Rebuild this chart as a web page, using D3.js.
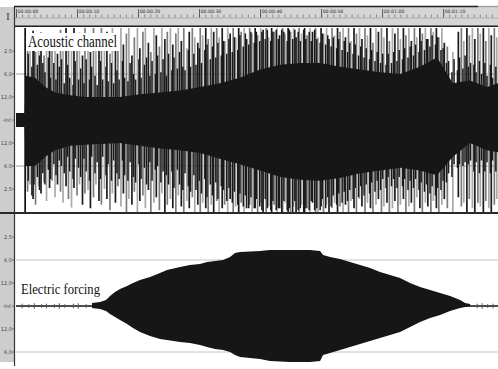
<!DOCTYPE html>
<html>
<head>
<meta charset="utf-8">
<script src="https://cdn.jsdelivr.net/npm/d3@7"></script>
<style>
  body { margin: 0; background: #fff; }
  svg { display: block; }
</style>
</head>
<body>
<svg id="chart" width="498" height="369"></svg>
<script>
// ---- time ruler (seconds) ----
const rulerTimes = [0, 10, 20, 30, 40, 50, 60, 70];
const rulerLabels = ["00:00:00", "00:00:10", "00:00:20", "00:00:30", "00:00:40", "00:00:50", "00:01:00", "00:01:10"];

// ---- level scale: linear amplitude with dB labels ----
const levelValues = [0.75, 0.5, 0.25, 0, -0.25, -0.5, -0.75];
const levelLabels = ["2,5", "6,0", "12,0", "-Inf.", "12,0", "6,0", "2,5"];
const gridLevels = [0.5, -0.5];

// ---- acoustic channel: dense body envelope (time s, upper / lower amplitude) ----
const coreT    = [0, 1.4, 1.6, 3.1, 4.8, 6.4, 8.9, 11.3, 13.8, 17.0, 20.3, 23.6, 26.9, 30.2, 33.4, 36.7, 40.0, 43.3, 46.6, 49.8, 53.1, 56.4, 59.7, 63.0, 66.2, 69.0, 71.6, 74.4, 77.2, 79.0];
const coreUp   = [0.075, 0.075, 0.48, 0.46, 0.36, 0.30, 0.27, 0.25, 0.25, 0.25, 0.28, 0.30, 0.32, 0.36, 0.40, 0.46, 0.55, 0.60, 0.62, 0.62, 0.58, 0.55, 0.52, 0.50, 0.58, 0.68, 0.40, 0.43, 0.36, 0.40];
const coreDown = [0.075, 0.075, 0.50, 0.50, 0.40, 0.33, 0.28, 0.27, 0.26, 0.25, 0.28, 0.31, 0.33, 0.36, 0.42, 0.48, 0.55, 0.62, 0.65, 0.66, 0.63, 0.58, 0.55, 0.52, 0.55, 0.60, 0.40, 0.25, 0.33, 0.35];

// ---- acoustic channel: tallest peaks [time s, upper tip, lower tip] ----
const acousticPeaks = [
  [1.5,1.0,1.0],
  [1.9,0.92,0.78],[2.3,0.80,0.70],[2.8,0.97,0.86],[3.2,0.74,0.92],[3.7,0.88,0.72],[4.1,0.95,0.80],[4.6,0.70,0.68],[5.0,0.86,0.88],[5.5,0.78,0.74],[5.9,0.93,0.66],[6.4,0.82,0.84],[6.8,0.72,0.70],
  [7.3,0.98,0.78],[7.7,0.84,0.90],[8.2,1.0,0.72],[8.6,0.76,0.86],[9.1,0.92,0.95],[9.5,1.0,0.74],[10.0,0.80,0.82],[10.4,0.95,0.70],[10.9,0.70,0.92],[11.3,1.0,0.80],[11.8,0.86,0.76],[12.2,0.74,0.96],[12.7,1.0,0.84],[13.1,0.90,0.70],[13.6,0.78,0.88],[14.0,1.0,0.92],[14.5,0.84,0.75],[14.9,0.96,0.86],[15.4,0.72,0.98],[15.8,1.0,0.80],[16.3,0.88,0.90],[16.7,0.76,0.72],
  [17.2,1.0,0.94],[17.6,0.82,0.80],[18.1,0.94,1.0],[18.5,1.0,0.86],[19.0,0.70,0.92],[19.4,0.90,0.78],[19.9,1.0,1.0],[20.3,0.78,0.88],[20.8,0.96,0.82],[21.2,1.0,0.96],[21.7,0.84,0.76],[22.1,0.74,1.0],[22.6,1.0,0.90],[23.0,0.92,0.84],[23.5,0.80,0.98],[23.9,1.0,0.80],[24.4,0.88,1.0],[24.8,0.96,0.92],[25.3,1.0,0.86],[25.7,0.82,0.96],[26.2,0.94,1.0],[26.6,1.0,0.82],[27.1,0.86,0.94],[27.5,1.0,1.0],[28.0,0.78,0.88],[28.4,0.96,0.96],[28.9,1.0,0.84],[29.3,0.90,1.0],[29.8,0.84,0.92],
  [30.2,1.0,1.0],[30.6,0.92,0.90],[31.1,1.0,0.96],[31.5,0.88,1.0],[32.0,1.0,0.92],[32.4,0.96,1.0],[32.9,1.0,0.88],[33.3,0.90,1.0],[33.8,1.0,0.96],[34.2,0.86,0.92],[34.7,1.0,1.0],[35.1,0.94,0.86],[35.6,1.0,1.0],[36.0,0.90,0.94],[36.5,1.0,1.0],[36.9,0.96,0.90],[37.4,1.0,1.0],[37.8,0.88,0.96],[38.3,1.0,0.92],[38.7,0.94,1.0],[39.2,1.0,0.96],[39.6,0.92,1.0],[40.1,1.0,0.90],[40.5,0.98,1.0],[41.0,1.0,1.0],[41.4,0.90,0.94],[41.9,1.0,1.0],[42.3,0.96,0.92],[42.8,1.0,1.0],[43.2,0.92,0.96],[43.7,1.0,1.0],[44.1,0.94,0.90],[44.6,1.0,1.0],[45.0,0.96,1.0],[45.5,1.0,0.94],[45.9,0.90,1.0],[46.4,1.0,1.0],[46.8,0.94,0.92],[47.3,1.0,1.0],[47.7,0.92,0.96],[48.2,1.0,1.0],[48.6,0.96,0.90],[49.1,1.0,1.0],[49.5,0.90,1.0],[50.0,1.0,0.94],[50.4,0.94,1.0],[50.9,1.0,0.92],[51.3,0.88,1.0],[51.8,1.0,0.96],[52.2,0.92,0.90],[52.7,1.0,1.0],[53.1,0.96,0.94],[53.6,1.0,1.0],
  [54.0,0.90,0.92],[54.5,1.0,1.0],[54.9,0.86,0.88],[55.4,1.0,0.96],[55.8,0.94,1.0],[56.3,1.0,0.86],[56.7,0.88,0.94],[57.2,1.0,1.0],[57.6,0.92,0.90],[58.1,1.0,0.96],[58.5,0.84,1.0],[59.0,1.0,0.92],[59.4,0.96,0.86],[59.9,1.0,1.0],[60.3,0.90,0.94],[60.8,1.0,0.90],[61.2,0.86,1.0],[61.7,1.0,0.96],[62.1,0.94,0.88],[62.6,1.0,1.0],[63.0,0.88,0.92],[63.5,1.0,0.86],[63.9,0.92,1.0],[64.4,1.0,0.94],[64.8,0.86,0.90],[65.3,1.0,1.0],[65.7,0.90,0.84],[66.2,1.0,0.96],[66.6,0.94,1.0],[67.1,1.0,0.90],[67.5,0.88,0.94],[68.0,1.0,1.0],[68.4,0.96,0.88],[68.9,1.0,0.96],[69.3,0.90,1.0],[69.8,1.0,0.92],[70.2,0.84,0.86],
  [70.7,0.80,0.96],[71.6,0.74,1.0],[72.5,0.96,0.84],
  [73.0,1.0,0.94],[73.4,0.86,0.90],[73.9,1.0,1.0],[74.3,0.92,0.86],[74.8,1.0,0.96],[75.2,0.88,1.0],[75.7,1.0,0.90],[76.1,0.94,0.94],[76.6,1.0,1.0],[77.0,0.86,0.88],[77.5,1.0,0.96],[77.9,0.92,1.0],[78.4,1.0,0.92],[78.8,0.90,0.86]
];

// ---- acoustic channel: mid-height bursts just outside the body [time s, upper, lower] ----
const acousticBursts = [
  [2.0,0.72,0.66],[2.6,0.58,0.82],[2.95,0.80,0.70],[3.5,0.60,0.62],[3.85,0.70,0.76],[4.4,0.62,0.58],[4.75,0.52,0.70],[5.3,0.68,0.54],[5.65,0.46,0.64],[6.2,0.62,0.48],[6.55,0.44,0.60],[7.1,0.58,0.44],
  [7.45,0.66,0.50],[7.9,0.40,0.58],[8.45,0.60,0.40],[8.8,0.46,0.56],[9.35,0.38,0.64],[9.7,0.64,0.42],[10.25,0.44,0.52],[10.6,0.56,0.62],[11.15,0.40,0.42],[11.5,0.66,0.56],[12.05,0.44,0.66],[12.4,0.58,0.40],[12.95,0.48,0.58],[13.3,0.38,0.46],[13.85,0.64,0.64],[14.2,0.44,0.40],[14.75,0.58,0.60],[15.1,0.42,0.48],[15.65,0.62,0.66],[16.0,0.40,0.44],[16.55,0.54,0.58],[16.9,0.44,0.64],
  [17.45,0.64,0.44],[17.8,0.46,0.60],[18.35,0.42,0.66],[18.7,0.62,0.46],[19.25,0.50,0.62],[19.6,0.44,0.68],[20.15,0.66,0.48],[20.5,0.46,0.64],[21.05,0.60,0.52],[21.4,0.68,0.70],[21.95,0.48,0.46],[22.3,0.64,0.66],[22.85,0.50,0.54],[23.2,0.70,0.50],[23.75,0.52,0.68],[24.1,0.66,0.56],[24.65,0.48,0.60],[25.0,0.72,0.70],[25.55,0.54,0.56],[25.9,0.68,0.74],[26.45,0.56,0.54],[26.8,0.74,0.70],[27.35,0.58,0.76],[27.7,0.54,0.58],[28.25,0.76,0.72],[28.6,0.58,0.78],[29.15,0.72,0.60],[29.5,0.60,0.76],
  [30.05,0.78,0.66],[30.4,0.62,0.80],[30.95,0.76,0.64],[31.3,0.82,0.84],[31.85,0.66,0.70],[32.2,0.80,0.82],[32.75,0.68,0.68],[33.1,0.84,0.86],[33.65,0.70,0.72],[34.0,0.86,0.76],[34.55,0.72,0.88],[34.9,0.88,0.74],[35.45,0.74,0.90],[35.8,0.90,0.78],[36.35,0.76,0.92],[36.7,0.92,0.80],[37.25,0.80,0.94],[37.6,0.94,0.82],[38.15,0.82,0.96],[38.5,0.96,0.84],[39.05,0.84,0.96],[39.4,0.96,0.86],[39.95,0.86,0.94],
  [40.3,0.96,0.98],[40.85,0.88,0.86],[41.2,0.98,0.96],[41.75,0.86,0.98],[42.1,0.96,0.88],[42.65,0.98,0.98],[43.0,0.88,0.96],[43.55,0.98,1.0],[43.9,0.96,0.88],[44.45,0.86,0.98],[44.8,0.98,0.96],[45.35,0.88,1.0],[45.7,0.98,0.88],[46.25,0.96,0.98],[46.6,0.86,0.96],[47.15,0.98,1.0],[47.5,0.88,0.96],[48.05,0.96,0.98],[48.4,0.86,0.88],[48.95,0.98,0.98],[49.3,0.88,0.96],[49.85,0.84,0.98],
  [50.2,0.94,0.86],[50.75,0.82,0.96],[51.1,0.92,0.84],[51.65,0.80,0.94],[52.0,0.90,0.82],[52.55,0.78,0.92],[52.9,0.88,0.80],[53.45,0.76,0.90],[53.8,0.86,0.78],[54.35,0.74,0.88],[54.7,0.84,0.76],[55.25,0.72,0.86],[55.6,0.82,0.74],[56.15,0.70,0.84],[56.5,0.80,0.72],[57.05,0.68,0.82],[57.4,0.78,0.70],[57.95,0.66,0.80],[58.3,0.76,0.68],[58.85,0.64,0.78],[59.2,0.74,0.66],[59.75,0.62,0.76],
  [60.1,0.72,0.64],[60.65,0.60,0.74],[61.0,0.72,0.62],[61.55,0.62,0.72],[61.9,0.74,0.64],[62.45,0.64,0.74],[62.8,0.76,0.62],[63.35,0.66,0.72],[63.7,0.78,0.64],[64.25,0.68,0.76],[64.6,0.80,0.66],[65.15,0.70,0.74],[65.5,0.82,0.64],[66.05,0.74,0.76],[66.4,0.86,0.68],[66.95,0.76,0.78],[67.3,0.88,0.70],[67.85,0.80,0.80],[68.2,0.92,0.72],[68.75,0.82,0.82],[69.1,0.90,0.74],[69.65,0.76,0.76],
  [70.0,0.78,0.66],[70.55,0.62,0.68],[70.9,0.64,0.58],[71.45,0.52,0.62],[71.8,0.66,0.48],[72.35,0.54,0.52],[72.7,0.68,0.48],[73.25,0.56,0.50],[73.6,0.70,0.46],[74.15,0.58,0.48],[74.5,0.62,0.44],[75.05,0.60,0.56],[75.4,0.52,0.46],[75.95,0.64,0.58],[76.3,0.50,0.44],[76.85,0.62,0.56],[77.2,0.48,0.46],[77.75,0.60,0.58],[78.1,0.46,0.44],[78.65,0.58,0.56]
];

// ---- electric forcing envelope (time s, upper / lower amplitude) ----
const forcingT    = [12.46, 13.77, 14.75, 15.41, 16.23, 17.05, 18.2, 19.18, 20.33, 21.97, 23.6, 24.75, 26.89, 28.52, 30.16, 31.31, 32.62, 33.93, 35.08, 35.9, 36.72, 40.0, 41.64, 44.92, 48.2, 49.84, 50.33, 51.48, 53.11, 54.75, 56.39, 58.03, 59.67, 61.31, 62.95, 64.59, 66.23, 67.87, 69.51, 71.15, 72.79, 73.61, 74.43];
const forcingUp   = [0.033, 0.043, 0.065, 0.109, 0.152, 0.185, 0.217, 0.25, 0.283, 0.315, 0.359, 0.391, 0.424, 0.446, 0.457, 0.478, 0.489, 0.5, 0.533, 0.576, 0.587, 0.598, 0.609, 0.609, 0.609, 0.598, 0.554, 0.533, 0.511, 0.478, 0.446, 0.413, 0.37, 0.337, 0.304, 0.25, 0.207, 0.174, 0.141, 0.109, 0.065, 0.033, 0.022];
const forcingDown = [0.022, 0.033, 0.054, 0.087, 0.12, 0.152, 0.196, 0.239, 0.283, 0.326, 0.359, 0.37, 0.391, 0.402, 0.424, 0.446, 0.467, 0.478, 0.5, 0.533, 0.554, 0.576, 0.598, 0.609, 0.609, 0.598, 0.533, 0.511, 0.478, 0.446, 0.413, 0.38, 0.348, 0.315, 0.283, 0.228, 0.174, 0.13, 0.098, 0.054, 0.022, 0.011, 0.0];
// small residual blips on the idle baseline (time s, amplitude)
const forcingBlipT = [1.0, 2.1, 3.0, 4.2, 5.0, 6.3, 7.1, 8.0, 9.4, 10.2, 11.5, 75.6, 76.4, 77.3, 78.2];
const forcingBlipA = [0.025, 0.02, 0.03, 0.02, 0.025, 0.02, 0.03, 0.02, 0.025, 0.03, 0.02, 0.025, 0.03, 0.02, 0.025];

const W = 498, H = 369;
const svg = d3.select("#chart");

const x = d3.scaleLinear().domain([0, 79]).range([16, 498]);
const yA = d3.scaleLinear().domain([-1, 1]).range([212, 28]);
const yE = d3.scaleLinear().domain([-1, 1]).range([398, 214]);

const defs = svg.append("defs");
defs.append("clipPath").attr("id", "clipA").append("rect").attr("x", 15.5).attr("y", 27).attr("width", W - 15.5).attr("height", 185);
defs.append("clipPath").attr("id", "clipE").append("rect").attr("x", 15.5).attr("y", 214).attr("width", W - 15.5).attr("height", H - 214);

// ---- frame: ruler band and left level column ----
svg.append("rect").attr("x", 0).attr("y", 7).attr("width", W).attr("height", 19).attr("fill", "#d5d5d5");
svg.append("rect").attr("x", 0).attr("y", 7).attr("width", 14).attr("height", 355).attr("fill", "#cdcdcd");
svg.append("line").attr("x1", 14).attr("x2", 478).attr("y1", 6.5).attr("y2", 6.5).attr("stroke", "#222").attr("stroke-width", 1.3);
svg.append("line").attr("x1", 478).attr("x2", W).attr("y1", 6.5).attr("y2", 6.5).attr("stroke", "#9a9a9a").attr("stroke-width", 1.3);
svg.append("text").attr("x", 8).attr("y", 20).attr("text-anchor", "middle")
  .attr("font-family", "Liberation Serif, serif").attr("font-size", 10).attr("fill", "#333").text("I");

// ruler ticks
const ruler = svg.append("g");
ruler.selectAll("line.minor").data(d3.range(0, 80, 1)).join("line").attr("class", "minor")
  .attr("x1", d => x(d) + 0.5).attr("x2", d => x(d) + 0.5).attr("y1", 14.5).attr("y2", 17.5)
  .attr("stroke", "#666").attr("stroke-width", 0.7);
ruler.selectAll("line.major").data(rulerTimes).join("line").attr("class", "major")
  .attr("x1", d => x(d) + 0.5).attr("x2", d => x(d) + 0.5).attr("y1", 9).attr("y2", 17.5)
  .attr("stroke", "#444").attr("stroke-width", 0.8);
ruler.selectAll("text").data(rulerTimes).join("text")
  .attr("x", d => x(d) + 1.6).attr("y", 13.2)
  .attr("font-family", "DejaVu Sans, sans-serif").attr("font-size", 4.6).attr("fill", "#333")
  .text((d, i) => rulerLabels[i]);
svg.append("line").attr("x1", 14).attr("x2", W).attr("y1", 18).attr("y2", 18).attr("stroke", "#a5a5a5").attr("stroke-width", 0.8);
svg.append("line").attr("x1", 14).attr("x2", W).attr("y1", 26.2).attr("y2", 26.2).attr("stroke", "#1e1e1e").attr("stroke-width", 1.5);

// ---- level gridlines ----
svg.append("g").selectAll("line").data(gridLevels).join("line")
  .attr("x1", 16).attr("x2", W).attr("y1", d => yA(d)).attr("y2", d => yA(d))
  .attr("stroke", "#9c9c9c").attr("stroke-width", 1);
svg.append("g").selectAll("line").data(gridLevels).join("line")
  .attr("x1", 16).attr("x2", W).attr("y1", d => yE(d)).attr("y2", d => yE(d))
  .attr("stroke", "#c6c6c6").attr("stroke-width", 1.2);

// ---- acoustic channel ----
const gA = svg.append("g").attr("clip-path", "url(#clipA)");
const tones = ["#1c1c1c", "#7c7c7c", "#a9a9a9"];
gA.selectAll("line.peak").data(acousticPeaks).join("line").attr("class", "peak")
  .attr("x1", d => x(d[0])).attr("x2", d => x(d[0]))
  .attr("y1", d => yA(d[1])).attr("y2", d => yA(-d[2]))
  .attr("stroke", (d, i) => i === 0 ? "#111" : tones[i % 3]).attr("stroke-width", 1.7);
gA.selectAll("line.burst").data(acousticBursts).join("line").attr("class", "burst")
  .attr("x1", d => x(d[0])).attr("x2", d => x(d[0]))
  .attr("y1", d => yA(d[1])).attr("y2", d => yA(-d[2]))
  .attr("stroke", "#1a1a1a").attr("stroke-width", 1.5);

const coreArea = d3.area()
  .x((d, i) => x(coreT[i]))
  .y0((d, i) => yA(-coreDown[i]))
  .y1((d, i) => yA(coreUp[i]));
gA.append("path").datum(coreT).attr("d", coreArea).attr("fill", "#161616");

// label
svg.append("rect").attr("x", 26).attr("y", 33).attr("width", 94).attr("height", 18).attr("fill", "#fff");
svg.append("text").attr("x", 28).attr("y", 47)
  .attr("font-family", "Liberation Serif, Times New Roman, serif").attr("font-size", 17)
  .attr("textLength", 89).attr("lengthAdjust", "spacingAndGlyphs").attr("fill", "#111")
  .text("Acoustic channel");

// ---- electric forcing ----
const gE = svg.append("g").attr("clip-path", "url(#clipE)");
gE.append("line").attr("x1", 16).attr("x2", W).attr("y1", yE(0)).attr("y2", yE(0))
  .attr("stroke", "#111").attr("stroke-width", 1.6);
gE.selectAll("line.blip").data(forcingBlipT).join("line").attr("class", "blip")
  .attr("x1", d => x(d)).attr("x2", d => x(d))
  .attr("y1", (d, i) => yE(forcingBlipA[i])).attr("y2", (d, i) => yE(-forcingBlipA[i]))
  .attr("stroke", "#555").attr("stroke-width", 1);
const forcingArea = d3.area()
  .x((d, i) => x(forcingT[i]))
  .y0((d, i) => yE(-forcingDown[i]))
  .y1((d, i) => yE(forcingUp[i]));
gE.append("path").datum(forcingT).attr("d", forcingArea).attr("fill", "#161616");

svg.append("text").attr("x", 21).attr("y", 294)
  .attr("font-family", "Liberation Serif, Times New Roman, serif").attr("font-size", 15)
  .attr("textLength", 79).attr("lengthAdjust", "spacingAndGlyphs").attr("fill", "#111")
  .text("Electric forcing");

// ---- track separator and left divider ----
svg.append("line").attr("x1", 0).attr("x2", W).attr("y1", 213).attr("y2", 213).attr("stroke", "#2a2a2a").attr("stroke-width", 2);
svg.append("line").attr("x1", 14.5).attr("x2", 14.5).attr("y1", 7).attr("y2", 366).attr("stroke", "#333").attr("stroke-width", 1.2);

// ---- level labels for both tracks (only those inside the visible track) ----
function levelAxis(scale, maxY) {
  const vals = levelValues.map((v, i) => ({ v, label: levelLabels[i] })).filter(d => scale(d.v) < maxY);
  const g = svg.append("g");
  g.selectAll("line").data(vals).join("line")
    .attr("x1", 12).attr("x2", 14).attr("y1", d => scale(d.v)).attr("y2", d => scale(d.v))
    .attr("stroke", "#555").attr("stroke-width", 0.8);
  g.selectAll("text").data(vals).join("text")
    .attr("x", 12).attr("y", d => scale(d.v) + 1.8).attr("text-anchor", "end")
    .attr("font-family", "DejaVu Sans, sans-serif").attr("font-size", 5).attr("fill", "#444")
    .text(d => d.label);
}
levelAxis(yA, 212);
levelAxis(yE, 362);
</script>
</body>
</html>
